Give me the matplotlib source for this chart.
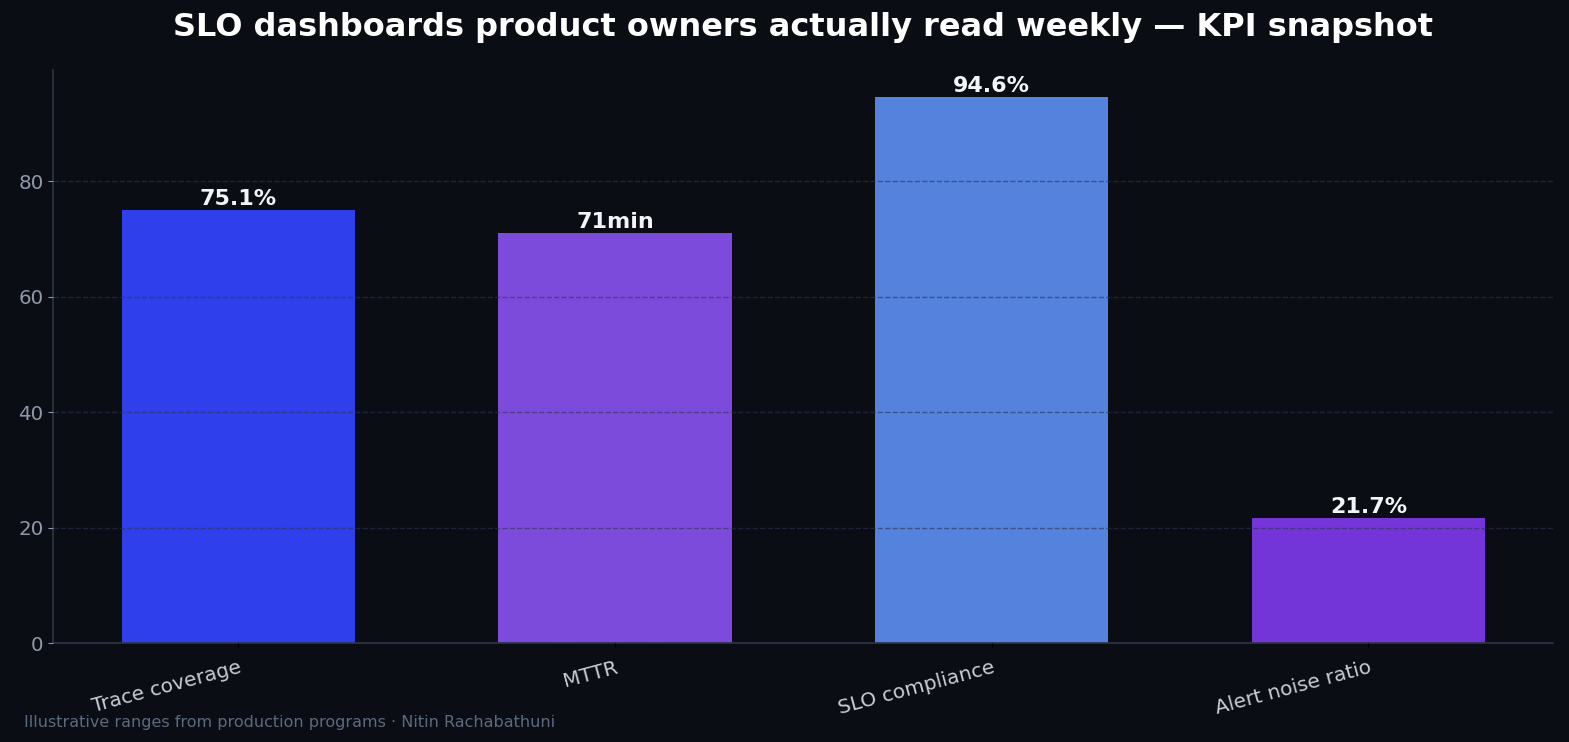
# KPI snapshot bar chart
import matplotlib
matplotlib.use("Agg")
import matplotlib.pyplot as plt

plt.rcParams["font.family"] = ["DejaVu Sans"]

# Data
categories = ["Trace coverage", "MTTR", "SLO compliance", "Alert noise ratio"]
values = [75.1, 71, 94.6, 21.7]
value_labels = ["75.1%", "71min", "94.6%", "21.7%"]
bar_colors = ["#2f3feb", "#7d4bdb", "#5582dd", "#7335d8"]

BG = "#0a0d14"

fig, ax = plt.subplots(figsize=(15.69, 7.42), dpi=100)
fig.patch.set_facecolor(BG)
ax.set_facecolor(BG)

bars = ax.bar(categories, values, width=0.62, color=bar_colors, zorder=1)

# value labels above bars
for bar, label in zip(bars, value_labels):
    ax.text(bar.get_x() + bar.get_width() / 2, bar.get_height() + 0.2, label,
            ha="center", va="bottom", color="#f2f4f8", fontsize=16,
            fontweight="bold")

ax.set_ylim(0, max(values) * 1.05)
ax.set_yticks([0, 20, 40, 60, 80])
ax.grid(axis="y", linestyle="--", color="#2a3550", alpha=0.6, linewidth=1, zorder=2)
ax.set_axisbelow(False)

for side in ["top", "right"]:
    ax.spines[side].set_visible(False)
for side in ["left", "bottom"]:
    ax.spines[side].set_color("#2e3645")
    ax.spines[side].set_linewidth(1.2)

ax.tick_params(axis="y", colors="#8e98a8", labelsize=14.3)
ax.tick_params(axis="x", colors="#000000", labelcolor="#c8cdd6", labelsize=14.5, pad=7)
plt.setp(ax.get_xticklabels(), rotation=15, ha="right", rotation_mode="anchor")

ax.set_title("SLO dashboards product owners actually read weekly \u2014 KPI snapshot",
             color="#ffffff", fontsize=23, fontweight="bold", pad=24)
fig.text(0.015, 0.02, "Illustrative ranges from production programs \u00b7 Nitin Rachabathuni",
         color="#5c6a80", fontsize=11.5)

fig.subplots_adjust(left=0.034, right=0.99, top=0.906, bottom=0.133)
fig.savefig("out.png", facecolor=BG)
